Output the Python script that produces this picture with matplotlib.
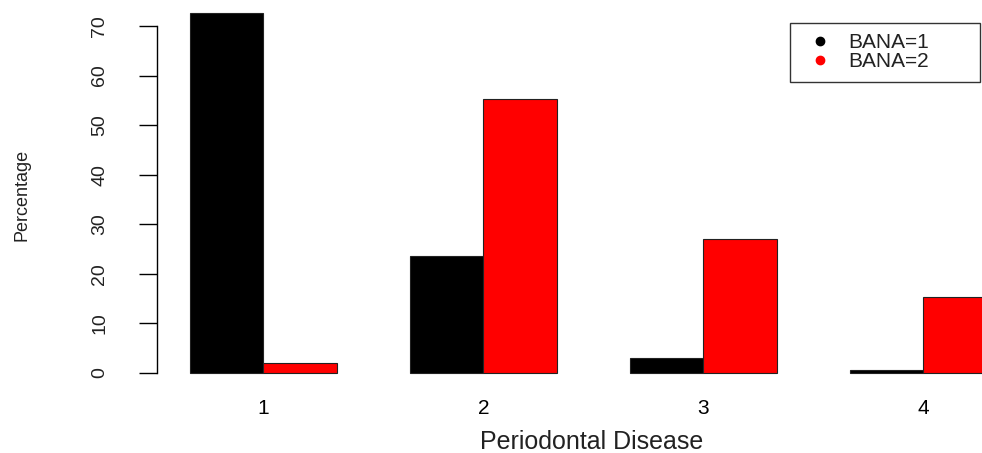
import numpy as np
import matplotlib
matplotlib.use("Agg")
from matplotlib import pyplot as plt
from matplotlib.lines import Line2D

plt.rcParams['font.family'] = ['Liberation Sans', 'DejaVu Sans']

groups = ['1', '2', '3', '4']  # periodontal disease levels
bana1 = [72.6, 23.6, 3.1, 0.6]  # percentage, BANA=1
bana2 = [2.0, 55.3, 27.0, 15.4]  # percentage, BANA=2
series_names = ['BANA=1', 'BANA=2']
series_colors = ['black', 'red']

# R style barplot(beside=TRUE): bar width 1, gap of 1 between groups
x0 = np.arange(len(groups)) * 3 + 1.5
x1 = x0 + 1

W, H = 982, 453
fig = plt.figure(figsize=(W / 100, H / 100), dpi=100)
ax = fig.add_axes([157 / W, (H - 387) / H, 1 - 157 / W, 387 / H])

ax.bar(x0, bana1, width=1, color=series_colors[0], edgecolor='#222222', linewidth=0.8)
ax.bar(x1, bana2, width=1, color=series_colors[1], edgecolor='#222222', linewidth=0.8)

ax.set_xlim(0.55, 11.8)
ax.set_ylim(-2.82, 75.25)

for s in ['top', 'right', 'bottom']:
    ax.spines[s].set_visible(False)
ax.spines['left'].set_bounds(0, 70)
ax.spines['left'].set_linewidth(1.0)

ax.set_yticks(np.arange(0, 71, 10))
ax.tick_params(axis='y', length=13.2, width=1.0, pad=22, labelsize=14)
for lab in ax.get_yticklabels():
    lab.set_rotation(90)
    lab.set_va('center')
    lab.set_color('#222222')

ax.set_xticks(x0 + 0.5)
ax.set_xticklabels(groups)
ax.tick_params(axis='x', length=0, pad=9, labelsize=15)

fig.text(592 / W, 4 / H, 'Periodontal Disease', ha='center', va='baseline',
         fontsize=18, color='#222222')
fig.text(22 / W, 1 - 195 / H, 'Percentage', rotation=90, ha='center', va='center',
         fontsize=13, color='#222222')

handles = [Line2D([], [], marker='o', linestyle='none', color=c, markersize=6)
           for c in series_colors]
leg = fig.legend(handles, series_names, loc='upper left',
                 bbox_to_anchor=(790 / W, 1 - 78 / H, 190 / W, 55 / H),
                 mode='expand', fontsize=15, frameon=True, fancybox=False,
                 borderpad=0.5, handlelength=1.88, handletextpad=0.41,
                 labelspacing=0.0, borderaxespad=0)
leg.get_frame().set_edgecolor('black')
leg.get_frame().set_linewidth(1.0)
for t in leg.get_texts():
    t.set_color('#222222')

plt.savefig('out.png', dpi=100)
